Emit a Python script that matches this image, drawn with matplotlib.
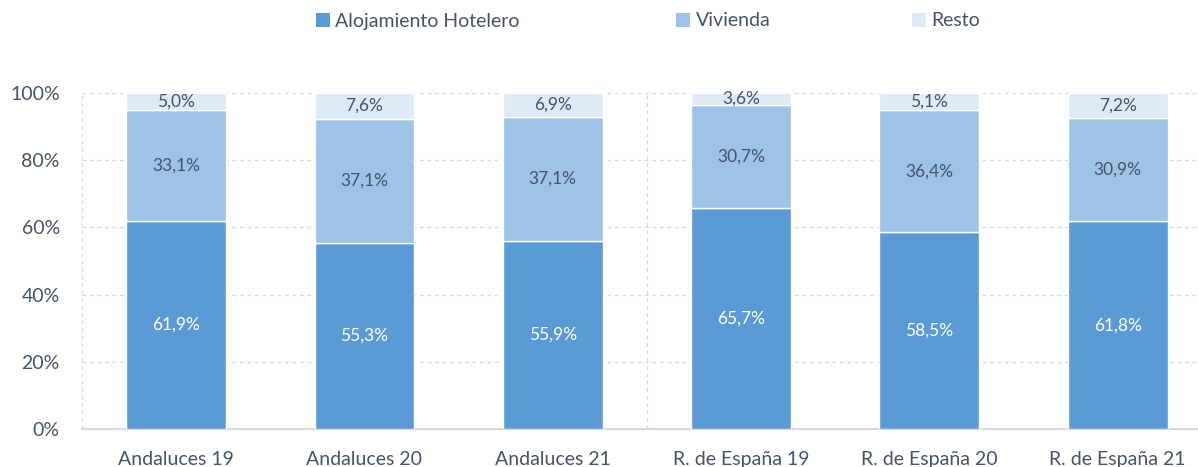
import matplotlib.pyplot as plt
import numpy as np
from matplotlib.patches import Patch

# datos
categorias = ['Andaluces 19', 'Andaluces 20', 'Andaluces 21',
              'R. de España 19', 'R. de España 20', 'R. de España 21']
hotelero = [61.9, 55.3, 55.9, 65.7, 58.5, 61.8]
vivienda = [33.1, 37.1, 37.1, 30.7, 36.4, 30.9]
resto = [5.0, 7.6, 6.9, 3.6, 5.1, 7.2]
series = ['Alojamiento Hotelero', 'Vivienda', 'Resto']
colores = ['#5B9BD5', '#9DC3E6', '#DEEBF7']

plt.rcParams['font.family'] = ['Lato', 'DejaVu Sans']
texto = '#44546A'

fig = plt.figure(figsize=(11.98, 4.67), dpi=100)
ax = fig.add_axes([82/1198, 38/467, 6*188.3/1198, 336/467])

x = np.arange(len(categorias))
ancho = 0.53
abajo = np.zeros(len(categorias))
for valores, color, nombre in zip([hotelero, vivienda, resto], colores, series):
    v = np.array(valores)
    ax.bar(x, v, ancho, bottom=abajo, color=color, edgecolor='white', linewidth=1, zorder=3)
    col_txt = 'white' if nombre == 'Alojamiento Hotelero' else texto
    for xi, b, h in zip(x, abajo, v):
        ax.text(xi, b + h/2, f'{h:.1f}%'.replace('.', ','), ha='center', va='center',
                fontsize=12.5, color=col_txt, zorder=4)
    abajo += v

ax.set_xlim(-0.5, 5.5)
ax.set_ylim(0, 100)
ax.set_yticks(range(0, 101, 20))
ax.set_yticklabels([f'{t}%' for t in range(0, 101, 20)])
ax.set_xticks(x)
ax.set_xticklabels(categorias)
ax.tick_params(axis='both', length=0, labelsize=14, colors=texto)
ax.tick_params(axis='x', pad=16)
ax.tick_params(axis='y', pad=16)
ax.yaxis.grid(True, linestyle=(0, (3, 3)), color='#D9D9D9', linewidth=0.9, zorder=0)
for xv in [-0.5, 2.5]:
    ax.axvline(xv, linestyle=(0, (3, 3)), color='#D9D9D9', linewidth=0.9, zorder=0)
for s in ['top', 'right', 'left']:
    ax.spines[s].set_visible(False)
ax.spines['bottom'].set_color('#D9D9D9')
ax.spines['bottom'].set_linewidth(1.5)

# leyenda
posiciones = [316, 676, 912]
for nombre, color, px in zip(series, colores, posiciones):
    fig.legend(handles=[Patch(facecolor=color, edgecolor='none')], labels=[nombre],
               loc='center left', bbox_to_anchor=(px/1198, 1 - 21/467), frameon=False,
               handlelength=0.7, handleheight=0.7, handletextpad=0.3,
               borderpad=0, borderaxespad=0, fontsize=14, labelcolor=texto)

fig.savefig('out.png', dpi=100)
